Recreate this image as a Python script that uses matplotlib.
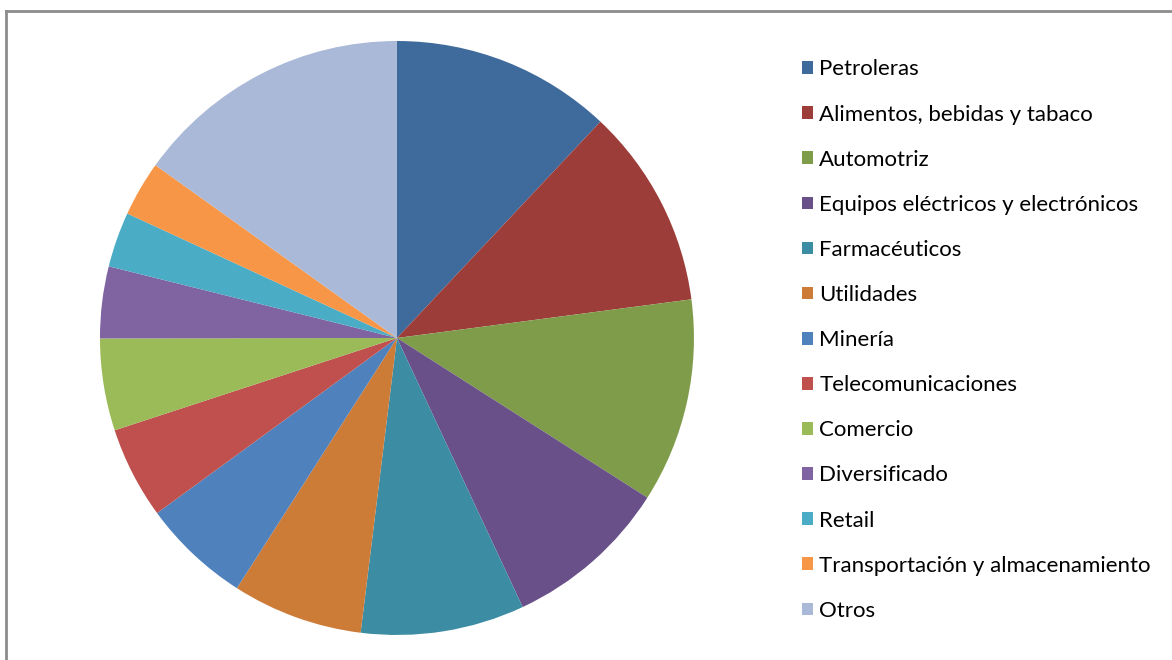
import matplotlib.pyplot as plt
from matplotlib.patches import Patch
from matplotlib.lines import Line2D

sectors = ['Petroleras', 'Alimentos, bebidas y tabaco', 'Automotriz',
           'Equipos eléctricos y electrónicos', 'Farmacéuticos', 'Utilidades',
           'Minería', 'Telecomunicaciones', 'Comercio', 'Diversificado',
           'Retail', 'Transportación y almacenamiento', 'Otros']
shares = [12.0, 10.9, 11.1, 9.0, 8.9, 7.1, 5.9, 5.0, 5.0, 3.9, 3.0, 3.0, 15.1]
colors = ['#3F6A9C', '#9C3D3A', '#7E9C4A', '#6A5088', '#3C8DA3', '#CD7C38',
          '#4F81BD', '#C0504D', '#9BBB59', '#8064A2', '#4BACC6', '#F79646',
          '#AAB9D7']

plt.rcParams['font.family'] = ['Lato', 'DejaVu Sans']

fig = plt.figure(figsize=(11.72, 6.6), dpi=100)
ax = fig.add_axes([0.0853, 0.0379, 0.5068, 0.9])
wedges, _ = ax.pie(shares, colors=colors, startangle=90, counterclock=False,
                   radius=1.0, wedgeprops=dict(linewidth=0))
ax.set_xlim(-1, 1)
ax.set_ylim(-1, 1)
ax.set_aspect('equal')
ax.axis('off')

handles = [Patch(facecolor=c, edgecolor='none') for c in colors]
leg = fig.legend(handles, sectors, loc='upper left',
                 bbox_to_anchor=(0.684, 0.910), frameon=False,
                 fontsize=16, handlelength=0.5, handleheight=0.5,
                 handletextpad=0.3, labelspacing=1.13, borderaxespad=0,
                 borderpad=0)

# chart area border (top and left visible)
fig.add_artist(Line2D([0.0055, 0.0055], [0, 0.9835], color='#8C8C8C', lw=2,
                      transform=fig.transFigure))
fig.add_artist(Line2D([0.0055, 1], [0.9835, 0.9835], color='#8C8C8C', lw=2,
                      transform=fig.transFigure))

fig.savefig('out.png', dpi=100)
